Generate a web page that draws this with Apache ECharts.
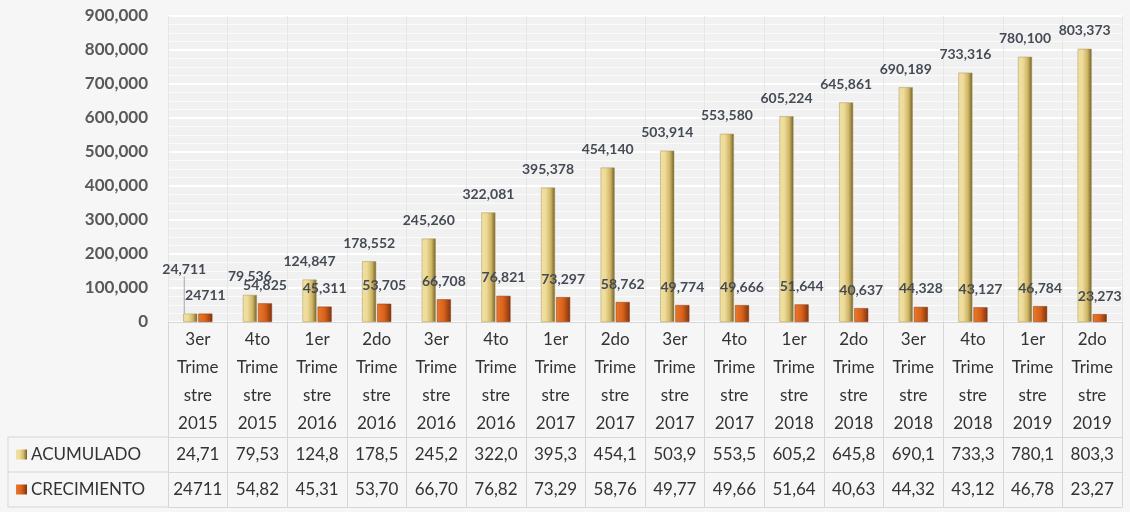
<!DOCTYPE html>
<html>
<head>
<meta charset="utf-8">
<script src="https://cdn.jsdelivr.net/npm/echarts@6/dist/echarts.min.js"></script>
<style>
  html, body { margin: 0; padding: 0; background: #f6f6f6; }
  #chart { width: 1130px; height: 512px; }
</style>
</head>
<body>
<div id="chart"></div>
<script>
// trimestres (cabecera de la tabla)
var trimestres = ['3er', '4to', '1er', '2do', '3er', '4to', '1er', '2do', '3er', '4to', '1er', '2do', '3er', '4to', '1er', '2do']
var anios = ['2015', '2015', '2016', '2016', '2016', '2016', '2017', '2017', '2017', '2017', '2018', '2018', '2018', '2018', '2019', '2019']

var acumulado = [24711, 79536, 124847, 178552, 245260, 322081, 395378, 454140, 503914, 553580, 605224, 645861, 690189, 733316, 780100, 803373]
var crecimiento = [24711, 54825, 45311, 53705, 66708, 76821, 73297, 58762, 49774, 49666, 51644, 40637, 44328, 43127, 46784, 23273]
// la primera celda de crecimiento viene sin separador de miles
var crecimientoSinSeparador = [0]

var yTicks = { min: 0, max: 900000, interval: 100000 }

var categorias = trimestres.map(function (t, i) {
  return t + '\nTrime\nstre\n' + anios[i]
})

var GRID_LEFT = 168, GRID_RIGHT = 8, GRID_TOP = 16, GRID_BOTTOM = 190
var HEAD_H = 115, ROW_H = 35
var TXT = '#333333'
var FONT = 'Lato, "Liberation Sans", sans-serif'

var goldFill = {
  type: 'linear', x: 0, y: 0, x2: 1, y2: 0,
  colorStops: [
    { offset: 0, color: '#efe0a4' },
    { offset: 0.35, color: '#eedb98' },
    { offset: 0.7, color: '#cdb466' },
    { offset: 1, color: '#6f5f28' }
  ]
}
var orangeFill = {
  type: 'linear', x: 0, y: 0, x2: 1, y2: 0,
  colorStops: [
    { offset: 0, color: '#e9782c' },
    { offset: 0.5, color: '#d9621b' },
    { offset: 1, color: '#7e3410' }
  ]
}

function conComa(v) {
  return v.toLocaleString('en-US')
}
// Excel corta el texto que no cabe en la celda
function celda(txt) {
  return txt.slice(0, 5)
}
function textoCrec(v, i) {
  return crecimientoSinSeparador.indexOf(i) >= 0 ? String(v) : conComa(v)
}

var chart = echarts.init(document.getElementById('chart'))

var lbl = {
  show: true,
  position: 'top',
  distance: 11,
  color: '#454b55',
  fontFamily: FONT,
  fontSize: 14,
  fontWeight: 'bold'
}

var tableAxis = function (offset, formatter) {
  return {
    type: 'category',
    position: 'bottom',
    offset: offset,
    data: categorias,
    axisLine: { show: true, lineStyle: { color: '#d6d6d6', width: 1 } },
    axisTick: { show: true, length: ROW_H, lineStyle: { color: '#d6d6d6' } },
    axisLabel: {
      interval: 0,
      margin: 9,
      color: TXT,
      fontFamily: FONT,
      fontSize: 17,
      formatter: formatter
    },
    splitLine: { show: false }
  }
}

chart.setOption({
  backgroundColor: '#f6f6f6',
  animation: false,
  grid: {
    left: GRID_LEFT, right: GRID_RIGHT, top: GRID_TOP, bottom: GRID_BOTTOM,
    show: true, backgroundColor: '#f1f1f1', borderWidth: 0
  },
  xAxis: [
    {
      type: 'category',
      position: 'bottom',
      data: categorias,
      axisLine: { show: true, lineStyle: { color: '#d6d6d6' } },
      axisTick: { show: true, length: HEAD_H, lineStyle: { color: '#d6d6d6' } },
      splitLine: { show: true, lineStyle: { color: '#e6e6e6' } },
      axisLabel: {
        interval: 0,
        margin: 4,
        color: TXT,
        fontFamily: FONT,
        fontSize: 17,
        lineHeight: 28
      }
    },
    tableAxis(HEAD_H, function (v, i) { return celda(conComa(acumulado[i])) }),
    tableAxis(HEAD_H + ROW_H, function (v, i) { return celda(textoCrec(crecimiento[i], i)) }),
    {
      type: 'category',
      position: 'bottom',
      offset: HEAD_H + 2 * ROW_H,
      data: categorias,
      axisLine: { show: true, lineStyle: { color: '#d6d6d6' } },
      axisTick: { show: false },
      axisLabel: { show: false }
    }
  ],
  yAxis: {
    type: 'value',
    min: yTicks.min,
    max: yTicks.max,
    interval: yTicks.interval,
    axisLine: { show: false },
    axisTick: { show: false },
    axisLabel: {
      margin: 20,
      color: '#595959',
      fontFamily: FONT,
      fontSize: 17,
      fontWeight: 'bold',
      formatter: function (v) { return conComa(v) }
    },
    splitLine: { show: true, lineStyle: { color: '#ffffff', width: 2 } },
    minorTick: { show: false, splitNumber: 4 },
    minorSplitLine: { show: true, lineStyle: { color: '#fbfbfb', width: 1 } }
  },
  series: [
    {
      name: 'ACUMULADO',
      type: 'bar',
      xAxisIndex: 0,
      barWidth: 14,
      barGap: '8%',
      itemStyle: { color: goldFill, borderColor: '#a89650', borderWidth: 0.5 },
      label: Object.assign({}, lbl, { formatter: function (p) { return conComa(p.value) } }),
      // la primera etiqueta está desplazada hacia arriba con línea guía
      labelLayout: function (p) {
        return p.dataIndex === 0 ? { dx: -6, dy: -26 } : {}
      },
      labelLine: { show: false, lineStyle: { color: '#a6a6a6', width: 1 } },
      data: acumulado.map(function (v, i) {
        return i === 0 ? { value: v, labelLine: { show: true } } : v
      })
    },
    {
      name: 'CRECIMIENTO',
      type: 'bar',
      xAxisIndex: 0,
      barWidth: 14,
      itemStyle: { color: orangeFill, borderColor: '#8a3a12', borderWidth: 0.5 },
      label: Object.assign({}, lbl, { formatter: function (p) { return textoCrec(p.value, p.dataIndex) } }),
      data: crecimiento
    }
  ]
})

// celdas de la leyenda a la izquierda de la tabla
function dibujarLeyenda() {
  var x0 = 8
  var x1 = GRID_LEFT
  var yTop = 512 - GRID_BOTTOM + HEAD_H
  var line = function (xa, ya, xb, yb) {
    return { type: 'line', shape: { x1: xa, y1: ya, x2: xb, y2: yb }, style: { stroke: '#d6d6d6', lineWidth: 1 }, silent: true }
  }
  var filas = [
    { nombre: 'ACUMULADO', fill: goldFill },
    { nombre: 'CRECIMIENTO', fill: orangeFill }
  ]
  var els = [
    line(x0, yTop, x1, yTop),
    line(x0, yTop + ROW_H, x1, yTop + ROW_H),
    line(x0, yTop + 2 * ROW_H, x1, yTop + 2 * ROW_H),
    line(x0, yTop, x0, yTop + 2 * ROW_H)
  ]
  filas.forEach(function (f, k) {
    var cy = yTop + ROW_H * k + ROW_H / 2
    els.push({ type: 'rect', shape: { x: 16, y: cy - 5, width: 11, height: 10 }, style: { fill: f.fill }, silent: true })
    els.push({
      type: 'text', x: 31, y: cy,
      style: { text: f.nombre, fill: TXT, font: '17px ' + FONT, textVerticalAlign: 'middle', verticalAlign: 'middle' },
      silent: true
    })
  })
  chart.setOption({ graphic: els })
}
dibujarLeyenda()
</script>
</body>
</html>
